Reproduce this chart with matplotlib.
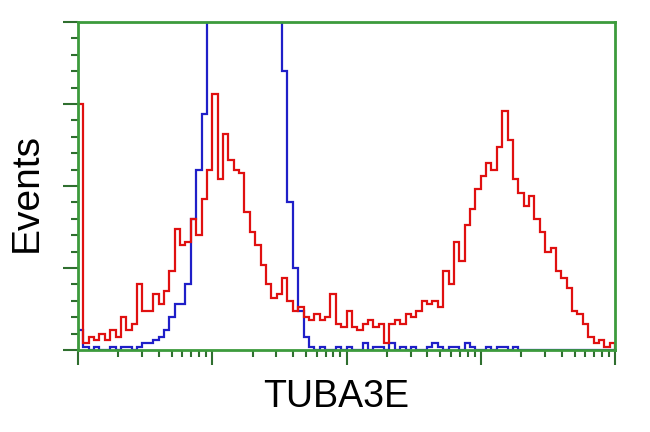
import matplotlib.pyplot as plt
import numpy as np
from matplotlib.ticker import LogLocator, MultipleLocator, NullFormatter

# histogram counts, 100 channels spread over 4 log decades (1 .. 10^4)
red_counts = [75, 2, 4, 3, 5, 3, 6, 4, 10, 6,
              8, 20, 12, 12, 17, 14, 18, 24, 37, 32,
              33, 40, 35, 46, 55, 78, 52, 66, 58, 55,
              54, 42, 36, 32, 26, 20, 16, 17, 22, 15,
              12, 13, 10, 9, 11, 9, 10, 17, 8, 7,
              12, 7, 6, 8, 9, 7, 8, 2, 8, 9,
              8, 11, 10, 12, 15, 14, 15, 13, 24, 20,
              33, 27, 38, 43, 49, 53, 57, 55, 62, 73,
              64, 52, 48, 44, 47, 40, 36, 30, 31, 24,
              22, 19, 12, 11, 8, 4, 2, 3, 1, 2]
blue_counts = [6, 1, 0, 1, 0, 0, 1, 0, 1, 1,
               0, 1, 2, 2, 3, 4, 6, 10, 14, 14,
               20, 40, 55, 72, 110, 150, 170, 180, 190, 185,
               175, 170, 160, 150, 140, 130, 120, 110, 85, 45,
               25, 12, 4, 1, 0, 1, 0, 0, 1, 0,
               1, 0, 0, 2, 0, 1, 1, 0, 2, 0,
               1, 0, 1, 0, 0, 1, 2, 1, 0, 1,
               1, 0, 2, 1, 0, 0, 1, 0, 1, 1,
               0, 1, 0, 0, 0, 0, 0, 0, 0, 0,
               0, 0, 0, 0, 0, 0, 0, 0, 0, 0]
n_decades = 4
x_label = "TUBA3E"
y_label = "Events"

edges = np.logspace(0, n_decades, len(red_counts) + 1)

green = "#3c9b3c"
tick_green = "#2f6f2f"

fig = plt.figure(figsize=(6.5, 4.32), dpi=100)
ax = fig.add_axes([78 / 650, 1 - 350 / 432, 537 / 650, 328 / 432])

ax.stairs(blue_counts, edges, color="#1f1fc8", linewidth=1.6)
ax.stairs(red_counts, edges, color="#e01010", linewidth=1.6)

ax.set_xscale("log")
ax.set_xlim(1, 10 ** n_decades)
ax.set_ylim(0, 100)

ax.xaxis.set_major_locator(LogLocator(base=10, numticks=10))
ax.xaxis.set_minor_locator(LogLocator(base=10, subs=np.arange(2, 10), numticks=20))
ax.xaxis.set_major_formatter(NullFormatter())
ax.xaxis.set_minor_formatter(NullFormatter())
ax.yaxis.set_major_locator(MultipleLocator(25))
ax.yaxis.set_minor_locator(MultipleLocator(5))
ax.yaxis.set_major_formatter(NullFormatter())

ax.tick_params(which="major", length=11, width=1.5, color=tick_green, direction="out")
ax.tick_params(which="minor", length=5, width=1.5, color=tick_green, direction="out")

for s in ax.spines.values():
    s.set_color(green)
    s.set_linewidth(2)

fig.text(336 / 650, 1 - 397 / 432, x_label, fontsize=27, family="Liberation Sans",
         ha="center", va="center")
fig.text(27 / 650, 1 - 192 / 432, y_label, fontsize=28, family="Liberation Sans",
         ha="center", va="center", rotation=90)

plt.savefig("out.png", dpi=100)
